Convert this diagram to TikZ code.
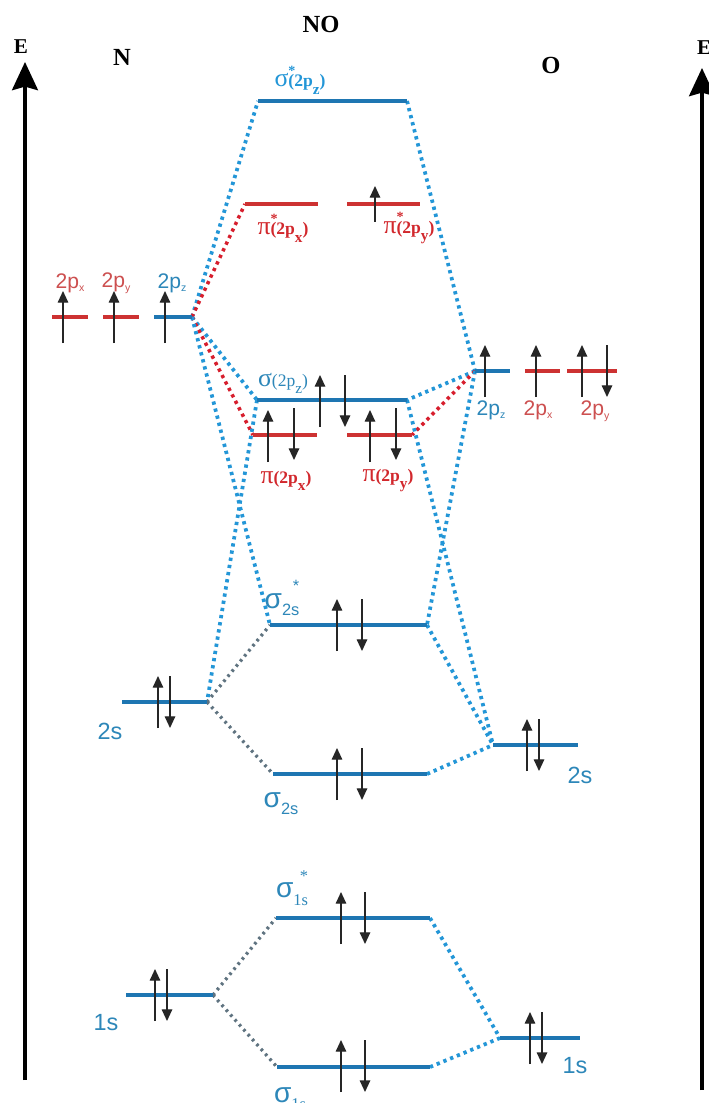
\documentclass[tikz,border=0pt]{standalone}
\usepackage{fontspec}
\setmainfont{Liberation Serif}
\newfontfamily\sansf{Liberation Sans}
\usetikzlibrary{arrows.meta}
\definecolor{lvblue}{RGB}{30,118,178}
\definecolor{dtblue}{RGB}{35,150,215}
\definecolor{txblue}{RGB}{45,135,185}
\definecolor{lvred}{RGB}{205,50,50}
\definecolor{txred}{RGB}{210,40,45}
\definecolor{txredl}{RGB}{205,80,80}
\definecolor{dtgray}{RGB}{95,115,128}
\definecolor{dtred}{RGB}{215,30,45}
\newcommand{\fs}[1]{\fontsize{#1}{#1}\selectfont}
% atomic orbital label 2p_x
\newcommand{\atlbl}[2]{{\sansf\fs{18pt}#1\raisebox{-3pt}{\fs{9pt}#2}}}
% MO label sigma_2s^*
\newcommand{\molbl}[4]{{\sansf\fs{24pt}#1}{#4\raisebox{-6pt}{\fs{14pt}#2}\llap{\raisebox{14pt}{\fs{14pt}#3}}}}
% p-type MO label  sym, star, sub, weight
\newcommand{\plbl}[4]{{\fs{22pt}#1}\rlap{\raisebox{10pt}{\fs{12pt}\bfseries #2}}{#4\fs{15pt}(2p\raisebox{-6pt}{\fs{13pt}#3})}}
\tikzset{
  blev/.style={draw=lvblue, line width=3pt},
  rlev/.style={draw=lvred, line width=3pt},
  bdot/.style={draw=dtblue, line width=3.2pt, dash pattern=on 2.8pt off 3.4pt},
  rdot/.style={draw=dtred, line width=3pt, dash pattern=on 2.8pt off 3.4pt},
  gdot/.style={draw=dtgray, line width=2.8pt, dash pattern=on 2.2pt off 3.4pt},
  espin/.style={line width=1.2pt, draw=black!85, -{Triangle[length=10pt,width=9pt]}},
  axisline/.style={line width=3.2pt, draw=black, -{Stealth[length=24pt,width=22pt,inset=3pt]}},
  hdr/.style={font=\bfseries\fs{21pt}, text=black},
  eup/.pic={\draw[espin] (0,26) -- (0,-26);},
  edn/.pic={\draw[espin] (0,-26) -- (0,26);},
  eups/.pic={\draw[espin] (0,18) -- (0,-18);},
}
\begin{document}
\begin{tikzpicture}[x=0.03cm, y=-0.03cm]
\useasboundingbox (0,0) rectangle (709,1103);
\clip (0,0) rectangle (709,1103);
\fill[white] (0,0) rectangle (709,1103);

% axes
\coordinate (ax1b) at (25,1080); \coordinate (ax1t) at (25,62);
\draw[axisline] (ax1b) -- (ax1t);
\coordinate (ax2b) at (702,1090); \coordinate (ax2t) at (702,68);
\draw[axisline] (ax2b) -- (ax2t);
\node[font=\bfseries\fs{18pt}] (E1) at (21,47) {E};
\node[font=\bfseries\fs{18pt}, anchor=west, inner sep=0pt] (E2) at (697,48) {E};
\node[hdr] (hN) at (122,57) {N};
\node[hdr] (hNO) at (321,24) {NO};
\node[hdr] (hO) at (551,65) {O};

% level end coordinates
\coordinate (sZsL) at (258,101); \coordinate (sZsR) at (407,101);
\coordinate (pXsL) at (245,204); \coordinate (pXsR) at (318,204);
\coordinate (pYsL) at (347,204); \coordinate (pYsR) at (420,204);
\coordinate (NpxL) at (52,317);  \coordinate (NpxR) at (88,317);
\coordinate (NpyL) at (103,317); \coordinate (NpyR) at (139,317);
\coordinate (NpzL) at (154,317); \coordinate (NpzR) at (192,317);
\coordinate (sZL) at (257,400);  \coordinate (sZR) at (407,400);
\coordinate (pXL) at (253,435);  \coordinate (pXR) at (317,435);
\coordinate (pYL) at (347,435);  \coordinate (pYR) at (412,435);
\coordinate (OpzL) at (475,371); \coordinate (OpzR) at (510,371);
\coordinate (OpxL) at (525,371); \coordinate (OpxR) at (560,371);
\coordinate (OpyL) at (567,371); \coordinate (OpyR) at (617,371);
\coordinate (s2sSL) at (270,625); \coordinate (s2sSR) at (427,625);
\coordinate (N2sL) at (122,702);  \coordinate (N2sR) at (207,702);
\coordinate (s2sL) at (273,774);  \coordinate (s2sR) at (427,774);
\coordinate (O2sL) at (493,745);  \coordinate (O2sR) at (578,745);
\coordinate (s1sSL) at (276,918); \coordinate (s1sSR) at (430,918);
\coordinate (N1sL) at (126,995);  \coordinate (N1sR) at (213,995);
\coordinate (s1sL) at (277,1067); \coordinate (s1sR) at (430,1067);
\coordinate (O1sL) at (500,1038); \coordinate (O1sR) at (580,1038);

% connectors
\draw[bdot] (NpzR) -- (sZsL);
\draw[rdot] (NpzR) -- (pXsL);
\draw[bdot] (NpzR) -- (sZL);
\draw[rdot] (NpzR) -- (pXL);
\draw[bdot] (NpzR) -- (s2sSL);
\draw[bdot] (sZL) -- (N2sR);
\draw[bdot] (sZsR) -- (OpzL);
\draw[bdot] (OpzL) -- (sZR);
\draw[rdot] (OpzL) -- (pYR);
\draw[bdot] (OpzL) -- (s2sSR);
\draw[bdot] (sZR) -- (O2sL);
\draw[bdot] (s2sSR) -- (O2sL);
\draw[bdot] (s2sR) -- (O2sL);
\draw[gdot] (N2sR) -- (s2sSL);
\draw[gdot] (N2sR) -- (s2sL);
\draw[gdot] (N1sR) -- (s1sSL);
\draw[gdot] (N1sR) -- (s1sL);
\draw[bdot] (s1sSR) -- (O1sL);
\draw[bdot] (s1sR) -- (O1sL);

% levels
\draw[blev] (sZsL) -- (sZsR);
\draw[rlev] (pXsL) -- (pXsR);
\draw[rlev] (pYsL) -- (pYsR);
\draw[rlev] (NpxL) -- (NpxR);
\draw[rlev] (NpyL) -- (NpyR);
\draw[blev] (NpzL) -- (NpzR);
\draw[blev] (sZL) -- (sZR);
\draw[rlev] (pXL) -- (pXR);
\draw[rlev] (pYL) -- (pYR);
\draw[blev] (OpzL) -- (OpzR);
\draw[rlev] (OpxL) -- (OpxR);
\draw[rlev] (OpyL) -- (OpyR);
\draw[blev] (s2sSL) -- (s2sSR);
\draw[blev] (N2sL) -- (N2sR);
\draw[blev] (s2sL) -- (s2sR);
\draw[blev] (O2sL) -- (O2sR);
\draw[blev] (s1sSL) -- (s1sSR);
\draw[blev] (N1sL) -- (N1sR);
\draw[blev] (s1sL) -- (s1sR);
\draw[blev] (O1sL) -- (O1sR);

% electrons
\pic at (375,204) {eups};
\pic at (63,317) {eup};
\pic at (114,317) {eup};
\pic at (165,317) {eup};
\pic at (320,401) {eup}; \pic at (345,401) {edn};
\pic at (268,436) {eup}; \pic at (294,434) {edn};
\pic at (370,436) {eup}; \pic at (396,434) {edn};
\pic at (485,371) {eup};
\pic at (536,371) {eup};
\pic at (582,371) {eup}; \pic at (607,371) {edn};
\pic at (337,625) {eup}; \pic at (362,625) {edn};
\pic at (158,702) {eup}; \pic at (170,702) {edn};
\pic at (337,774) {eup}; \pic at (362,774) {edn};
\pic at (527,745) {eup}; \pic at (539,745) {edn};
\pic at (341,918) {eup}; \pic at (365,918) {edn};
\pic at (155,995) {eup}; \pic at (167,995) {edn};
\pic at (341,1066) {eup}; \pic at (365,1066) {edn};
\pic at (530,1038) {eup}; \pic at (542,1038) {edn};

% labels
\node[text=dtblue, inner sep=0pt] (lsZs) at (300,80) {\plbl{σ}{*}{z}{\bfseries}};
\node[text=txred, inner sep=0pt] (lpXs) at (283,228) {\plbl{π}{*}{x}{\bfseries}};
\node[text=txred, inner sep=0pt] (lpYs) at (409,228) {\plbl{π}{*}{y}{\bfseries}};
\node[text=txredl, inner sep=0pt] (lNpx) at (70,283) {\atlbl{2p}{x}};
\node[text=txredl, inner sep=0pt] (lNpy) at (116,283) {\atlbl{2p}{y}};
\node[text=txblue, inner sep=0pt] (lNpz) at (172,283) {\atlbl{2p}{z}};
\node[text=txblue, inner sep=0pt] (lsZ) at (283,383) {\plbl{σ}{}{z}{}};
\node[text=txred, inner sep=0pt] (lpX) at (286,481) {\plbl{π}{}{x}{\bfseries}};
\node[text=txred, inner sep=0pt] (lpY) at (388,481) {\plbl{π}{}{y}{\bfseries}};
\node[text=txblue, inner sep=0pt] (lOpz) at (491,410) {\atlbl{2p}{z}};
\node[text=txredl, inner sep=0pt] (lOpx) at (538,410) {\atlbl{2p}{x}};
\node[text=txredl, inner sep=0pt] (lOpy) at (595,411) {\atlbl{2p}{y}};
\node[text=txblue, inner sep=0pt] (ls2sS) at (282,598) {\molbl{σ}{2s}{*}{\sansf}};
\node[text=txblue, inner sep=0pt, font=\sansf\fs{20pt}] (lN2s) at (110,731) {2s};
\node[text=txblue, inner sep=0pt] (ls2s) at (281,803) {\molbl{σ}{2s}{}{\sansf}};
\node[text=txblue, inner sep=0pt, font=\sansf\fs{20pt}] (lO2s) at (580,775) {2s};
\node[text=txblue, inner sep=0pt] (ls1sS) at (292,888) {\molbl{σ}{1s}{*}{\rmfamily}};
\node[text=txblue, inner sep=0pt, font=\sansf\fs{20pt}] (lN1s) at (106,1023) {1s};
\node[text=txblue, inner sep=0pt] (ls1s) at (290,1098) {\molbl{σ}{1s}{}{\rmfamily}};
\node[text=txblue, inner sep=0pt, font=\sansf\fs{20pt}] (lO1s) at (575,1066) {1s};
\end{tikzpicture}
\end{document}
